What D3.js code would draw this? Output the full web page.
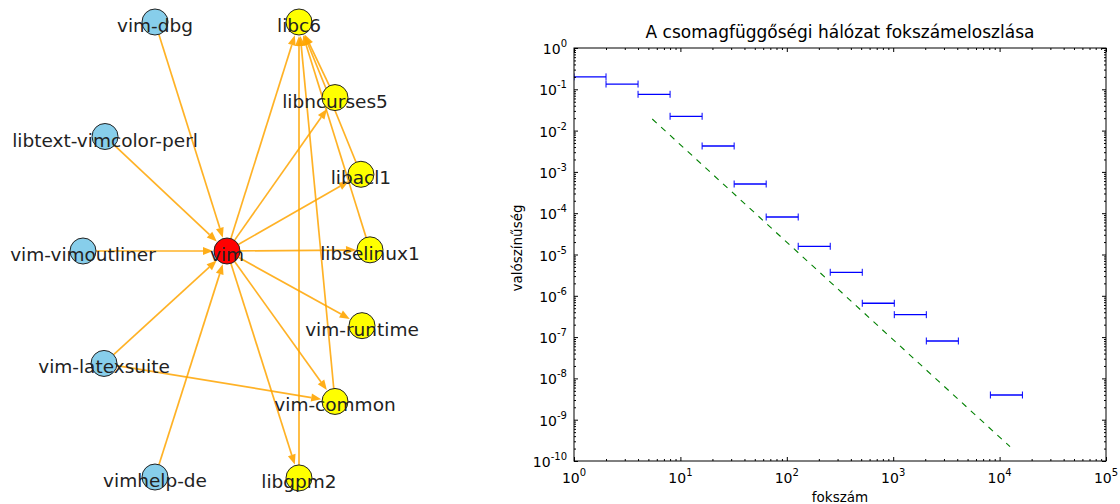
<!DOCTYPE html>
<html>
<head>
<meta charset="utf-8">
<script src="https://cdn.jsdelivr.net/npm/d3@7"></script>
<style>
html, body { margin: 0; padding: 0; background: #ffffff; }
svg { display: block; font-family: "DejaVu Sans", sans-serif; }
</style>
</head>
<body>
<svg id="chart" width="1120" height="504"></svg>
<script>
// package dependency graph (layout coordinates, vim in the middle)
var nodeNames = ["vim", "vim-dbg", "libtext-vimcolor-perl", "vim-vimoutliner", "vim-latexsuite", "vimhelp-de",
	"libc6", "libncurses5", "libacl1", "libselinux1", "vim-runtime", "vim-common", "libgpm2"];
var nodeKinds = ["self", "rdep", "rdep", "rdep", "rdep", "rdep",
	"dep", "dep", "dep", "dep", "dep", "dep", "dep"];
var nodePosX = [0, -0.5, -0.847, -1.0, -0.854, -0.5, 0.5, 0.75, 0.93, 0.993, 0.9375, 0.75, 0.5];
var nodePosY = [0, 1.0, 0.5, 0, -0.491, -0.987, 1.0, 0.67, 0.335, 0.005, -0.326, -0.657, -0.991];

var edgeSource = ["vim-dbg", "libtext-vimcolor-perl", "vim-vimoutliner", "vim-latexsuite", "vimhelp-de",
	"vim", "vim", "vim", "vim", "vim", "vim", "vim",
	"libncurses5", "libacl1", "libselinux1", "vim-common", "libgpm2", "vim-latexsuite"];
var edgeTarget = ["vim", "vim", "vim", "vim", "vim",
	"libc6", "libncurses5", "libacl1", "libselinux1", "vim-runtime", "vim-common", "libgpm2",
	"libc6", "libc6", "libc6", "libc6", "libc6", "vim-common"];

// degree distribution (log binned)
var binLow = [1, 2, 4, 8, 16, 32, 64, 128, 256, 512, 1024, 2048, 8192];
var binHigh = [2, 4, 8, 16, 32, 64, 128, 256, 512, 1024, 2048, 4096, 16384];
var binProb = [0.2, 0.134, 0.0757, 0.0222, 0.00424, 5.09e-4, 8.09e-5, 1.58e-5, 3.71e-6, 6.6e-7, 3.49e-7, 8.05e-8, 3.96e-9];
var fitX = [5.44, 12530];
var fitY = [0.0191, 2.22e-10];

var xTickExp = [0, 1, 2, 3, 4, 5];
var yTickExp = [0, -1, -2, -3, -4, -5, -6, -7, -8, -9, -10];

var chartTitle = "A csomagfüggőségi hálózat fokszámeloszlása";
var xLabel = "fokszám";
var yLabel = "valószínűség";

var svg = d3.select("#chart");

/**
 * network graph
 */
var graphObj = {

	radius : 13,
	colors : { self : "#ff0000", rdep : "#87ceeb", dep : "#ffff00" },
	edgeColor : "#ffa500",

	draw : function(node) {
		var that = this;
		var sx = d3.scaleLinear().domain([-1, 1]).range([83, 371]);
		var sy = d3.scaleLinear().domain([-1, 1]).range([480, 22]);

		var pos = {};
		nodeNames.forEach(function(name, i) {
			pos[name] = { x : sx(nodePosX[i]), y : sy(nodePosY[i]) };
		});

		var gEdge = node.append("g");
		for (var i = 0; i < edgeSource.length; i++) {
			that.drawArrow(gEdge, pos[edgeSource[i]], pos[edgeTarget[i]]);
		}

		var gNode = node.append("g");
		nodeNames.forEach(function(name, i) {
			gNode.append("circle").attr("cx", pos[name].x).attr("cy", pos[name].y).attr("r", that.radius)
				.attr("fill", that.colors[nodeKinds[i]]).attr("stroke", "#222222").attr("stroke-width", 1);
		});

		var gText = node.append("g");
		nodeNames.forEach(function(name) {
			gText.append("text").attr("x", pos[name].x).attr("y", pos[name].y + 10)
				.attr("text-anchor", "middle").attr("font-size", "18.5px").attr("fill", "#222222").text(name);
		});
	},

	drawArrow : function(node, s, t) {
		var that = this;
		var dx = t.x - s.x, dy = t.y - s.y;
		var len = Math.sqrt(dx * dx + dy * dy);
		var ux = dx / len, uy = dy / len;
		var px = -uy, py = ux;
		var headLen = 10, headW = 4;

		var x1 = s.x + ux * that.radius, y1 = s.y + uy * that.radius;
		var tipX = t.x - ux * (that.radius + 1), tipY = t.y - uy * (that.radius + 1);
		var baseX = tipX - ux * headLen, baseY = tipY - uy * headLen;

		node.append("line").attr("x1", x1).attr("y1", y1).attr("x2", baseX).attr("y2", baseY)
			.attr("stroke", that.edgeColor).attr("stroke-opacity", 0.85).attr("stroke-width", 1.7);
		node.append("path")
			.attr("d", "M" + tipX + "," + tipY + "L" + (baseX + px * headW) + "," + (baseY + py * headW)
				+ "L" + (baseX - px * headW) + "," + (baseY - py * headW) + "Z")
			.attr("fill", that.edgeColor).attr("fill-opacity", 0.9);
	}
};

/**
 * degree distribution (log-log)
 */
var degreeObj = {

	box : { left : 574, right : 1106, top : 48, bottom : 461 },

	draw : function(node) {
		var that = this;
		var b = that.box;
		var x = d3.scaleLog().domain([1, 1e5]).range([b.left, b.right]);
		var y = d3.scaleLog().domain([1e-10, 1]).range([b.bottom, b.top]);

		var xMajor = xTickExp.map(function(e) { return Math.pow(10, e); });
		var yMajor = yTickExp.map(function(e) { return Math.pow(10, e); });
		var xMinor = that.minorTicks(0, 5);
		var yMinor = that.minorTicks(-10, 0);

		// error bars / bins
		node.append("clipPath").attr("id", "plotClip").append("rect")
			.attr("x", b.left).attr("y", b.top).attr("width", b.right - b.left).attr("height", b.bottom - b.top);
		var plot = node.append("g").attr("clip-path", "url(#plotClip)");

		for (var i = 0; i < binProb.length; i++) {
			var yy = y(binProb[i]);
			var xa = x(binLow[i]), xb = x(binHigh[i]);
			plot.append("line").attr("x1", xa).attr("y1", yy).attr("x2", xb).attr("y2", yy)
				.attr("stroke", "#0000ff").attr("stroke-width", 1.3);
			[xa, xb].forEach(function(cx) {
				plot.append("line").attr("x1", cx).attr("y1", yy - 3.5).attr("x2", cx).attr("y2", yy + 3.5)
					.attr("stroke", "#0000ff").attr("stroke-width", 1);
			});
		}

		var fit = d3.line().x(function(d) { return x(d[0]); }).y(function(d) { return y(d[1]); });
		plot.append("path").datum(d3.zip(fitX, fitY)).attr("d", fit)
			.attr("fill", "none").attr("stroke", "#008000").attr("stroke-width", 1.1).attr("stroke-dasharray", "6,6");

		// frame and inward ticks on all sides
		var axes = [
			[d3.axisBottom(x), "translate(0," + b.bottom + ")", xMajor, xMinor],
			[d3.axisTop(x), "translate(0," + b.top + ")", xMajor, xMinor],
			[d3.axisLeft(y), "translate(" + b.left + ",0)", yMajor, yMinor],
			[d3.axisRight(y), "translate(" + b.right + ",0)", yMajor, yMinor]
		];
		axes.forEach(function(a) {
			var gMaj = node.append("g").attr("transform", a[1])
				.call(a[0].tickValues(a[2]).tickSize(-4).tickSizeOuter(0).tickFormat(""));
			gMaj.select(".domain").remove();
			var gMin = node.append("g").attr("transform", a[1])
				.call(a[0].tickValues(a[3]).tickSize(-2).tickSizeOuter(0).tickFormat(""));
			gMin.select(".domain").remove();
		});
		node.selectAll(".tick line").attr("stroke", "#000000").attr("stroke-width", 1);

		node.append("rect").attr("x", b.left).attr("y", b.top)
			.attr("width", b.right - b.left).attr("height", b.bottom - b.top)
			.attr("fill", "none").attr("stroke", "#000000").attr("stroke-width", 1);

		// tick labels 10^n
		xTickExp.forEach(function(e) {
			that.drawPow(node, x(Math.pow(10, e)), b.bottom + 22, e, "middle");
		});
		yTickExp.forEach(function(e) {
			that.drawPow(node, b.left - 7, y(Math.pow(10, e)) + 6, e, "end");
		});

		node.append("text").attr("x", (b.left + b.right) / 2).attr("y", 38).attr("text-anchor", "middle")
			.attr("font-size", "17px").attr("fill", "#000000").text(chartTitle);
		node.append("text").attr("x", (b.left + b.right) / 2).attr("y", 502).attr("text-anchor", "middle")
			.attr("font-size", "13.5px").attr("fill", "#000000").text(xLabel);
		node.append("text").attr("transform", "translate(522,248) rotate(-90)")
			.attr("text-anchor", "middle").attr("font-size", "13.5px").attr("fill", "#000000").text(yLabel);
	},

	minorTicks : function(from, to) {
		var ticks = [];
		for (var e = from; e < to; e++) {
			for (var d = 2; d <= 9; d++) {
				ticks.push(d * Math.pow(10, e));
			}
		}
		return ticks;
	},

	drawPow : function(node, x, y, exp, anchor) {
		var t = node.append("text").attr("x", x).attr("y", y).attr("text-anchor", anchor)
			.attr("font-size", "14px").attr("fill", "#000000");
		t.append("tspan").text("10");
		t.append("tspan").attr("dy", -7).attr("font-size", "10px").text(exp < 0 ? "-" + (-exp) : String(exp));
		return t;
	}
};

graphObj.draw(svg);
degreeObj.draw(svg);
</script>
</body>
</html>
